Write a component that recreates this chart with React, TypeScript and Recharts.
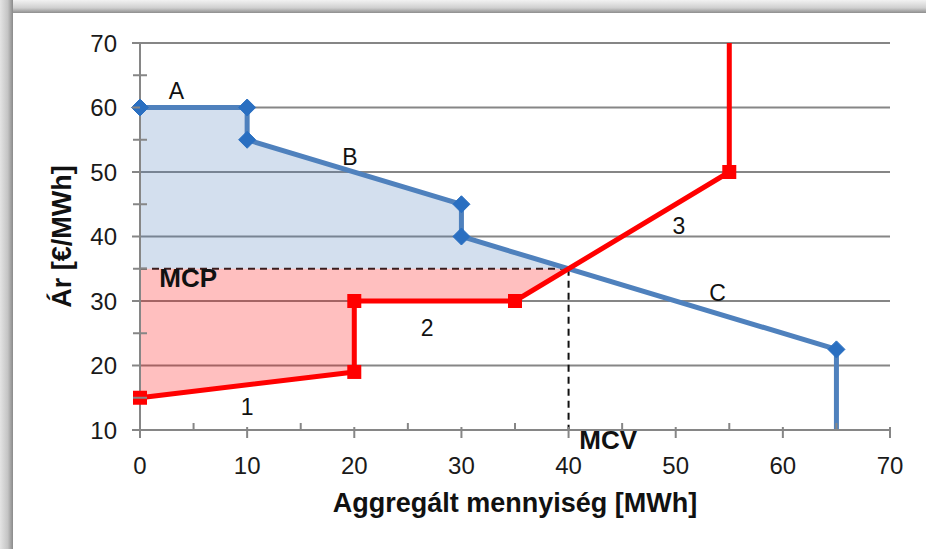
import React from 'react';
import {
  ComposedChart,
  Line,
  Area,
  XAxis,
  YAxis,
  CartesianGrid,
  ReferenceLine,
  ReferenceDot,
} from 'recharts';

// Demand curve (kereslet)
const demandQ = [0, 10, 10, 30, 30, 65, 65];
const demandP = [60, 60, 55, 45, 40, 22.5, 10];
// Supply curve (kínálat)
const supplyQ = [0, 20, 20, 35, 55, 55];
const supplyP = [15, 19, 30, 30, 50, 70];

// Market clearing
const mcpValue = 35;
const mcvValue = 40;

// Consumer surplus polygon (above MCP, under demand)
const blueFillQ = [0, 10, 10, 30, 30, 40];
const blueFillTop = [60, 60, 55, 45, 40, 35];
// Producer surplus polygon (below MCP, above supply)
const redFillQ = [0, 20, 20, 35, 40];
const redFillBottom = [15, 19, 30, 30, 35];

const xTicks = [0, 5, 10, 15, 20, 25, 30, 35, 40, 45, 50, 55, 60, 65, 70];
const yTicks = [10, 15, 20, 25, 30, 35, 40, 45, 50, 55, 60, 65, 70];
const gridValues = [20, 30, 40, 50, 60, 70];

// Segment labels
const segLabels = ['A', 'B', 'C', '1', '2', '3'];
const segLabelQ = [3.4, 19.6, 53.9, 10, 26.8, 50.3];
const segLabelP = [62.6, 52.3, 31.2, 13.6, 25.8, 41.6];

const demandData = demandQ.map((q, i) => ({ q, p: demandP[i] }));
const supplyData = supplyQ.map((q, i) => ({ q, p: supplyP[i] }));
const blueFillData = blueFillQ.map((q, i) => ({ q, range: [mcpValue, blueFillTop[i]] }));
const redFillData = redFillQ.map((q, i) => ({ q, range: [redFillBottom[i], mcpValue] }));

const AXIS_GRAY = '#868686';
const TICK_FONT = '"Liberation Sans", Arial, sans-serif';

const XTick = (props: any) => {
  const { x, y, payload } = props;
  const v = payload.value;
  if (v % 10 === 0) {
    return (
      <g>
        <line x1={x} x2={x} y1={y - 3} y2={y + 8} stroke={AXIS_GRAY} strokeWidth={2} />
        <text x={x} y={y + 44} textAnchor="middle" fontSize={24} fontFamily={TICK_FONT} fill="#1a1a1a">
          {v}
        </text>
      </g>
    );
  }
  return <line x1={x} x2={x} y1={y - 7} y2={y} stroke={AXIS_GRAY} strokeWidth={2} />;
};

const YTick = (props: any) => {
  const { x, y, payload } = props;
  const v = payload.value;
  if (v % 10 === 0) {
    return (
      <g>
        <line x1={x - 8} x2={x} y1={y} y2={y} stroke={AXIS_GRAY} strokeWidth={2} />
        <text x={x - 23} y={y + 8.5} textAnchor="end" fontSize={24} fontFamily={TICK_FONT} fill="#1a1a1a">
          {v}
        </text>
      </g>
    );
  }
  return <line x1={x - 7} x2={x + 7} y1={y} y2={y} stroke={AXIS_GRAY} strokeWidth={2} />;
};

const makeDiamondDot = (lastIndex: number) => (props: any) => {
  const { cx, cy, index } = props;
  if (index >= lastIndex || cx == null) return <g key={`d${index}`} />;
  const r = 8.5;
  return (
    <path
      key={`d${index}`}
      d={`M${cx},${cy - r}L${cx + r},${cy}L${cx},${cy + r}L${cx - r},${cy}Z`}
      fill="#2a6fc1"
      stroke="#2a6fc1"
      strokeWidth={1}
    />
  );
};

const makeSquareDot = (lastIndex: number) => (props: any) => {
  const { cx, cy, index } = props;
  if (index >= lastIndex || cx == null) return <g key={`s${index}`} />;
  const h = 7;
  return <rect key={`s${index}`} x={cx - h} y={cy - h} width={2 * h} height={2 * h} fill="#ff0000" />;
};

const YTitle = (props: any) => {
  const vb = props.viewBox || { x: 80, y: 43, width: 60, height: 387 };
  const cx = vb.x - 18;
  const cy = vb.y + vb.height / 2;
  return (
    <text
      x={cx}
      y={cy}
      transform={`rotate(-90, ${cx}, ${cy})`}
      textAnchor="middle"
      dominantBaseline="central"
      fontSize={27}
      fontWeight="bold"
      fontFamily={TICK_FONT}
      fill="#111"
    >
      Ár [€/MWh]
    </text>
  );
};

const XTitle = (props: any) => {
  const vb = props.viewBox || { x: 140, y: 430, width: 750, height: 60 };
  const cx = vb.x + vb.width / 2;
  const cy = vb.y + 73;
  return (
    <text
      x={cx}
      y={cy}
      textAnchor="middle"
      dominantBaseline="central"
      fontSize={27}
      fontWeight="bold"
      fontFamily={TICK_FONT}
      fill="#111"
    >
      Aggregált mennyiség [MWh]
    </text>
  );
};

export default function App() {
  return (
    <div
      style={{
        position: 'absolute',
        left: 0,
        top: 0,
        width: 926,
        height: 549,
        background: '#ffffff',
        overflow: 'hidden',
      }}
    >
      <div
        style={{
          position: 'absolute',
          left: 0,
          top: 0,
          width: 926,
          height: 13,
          background: 'linear-gradient(to bottom, #f2f2f2 0%, #d0d0d0 60%, #8e8e8e 100%)',
        }}
      />
      <div
        style={{
          position: 'absolute',
          left: 0,
          top: 0,
          width: 13,
          height: 549,
          background: 'linear-gradient(to right, #e4e4e4 0%, #c4c4c4 60%, #8a8a8a 100%)',
        }}
      />
      <div style={{ position: 'absolute', left: 0, top: 0 }}>
        <ComposedChart
          width={926}
          height={549}
          margin={{ top: 43, right: 36, bottom: 59, left: 80 }}
        >
          <CartesianGrid
            vertical={false}
            horizontalValues={gridValues}
            stroke={AXIS_GRAY}
            strokeWidth={2}
          />
          <XAxis
            dataKey="q"
            type="number"
            domain={[0, 70]}
            ticks={xTicks}
            interval={0}
            height={60}
            tickSize={0}
            tickMargin={0}
            tickLine={false}
            axisLine={{ stroke: AXIS_GRAY, strokeWidth: 2 }}
            tick={<XTick />}
            label={<XTitle />}
          />
          <YAxis
            type="number"
            domain={[10, 70]}
            ticks={yTicks}
            interval={0}
            width={60}
            tickSize={0}
            tickMargin={0}
            tickLine={false}
            axisLine={{ stroke: AXIS_GRAY, strokeWidth: 2 }}
            tick={<YTick />}
            label={<YTitle />}
          />
          <Area
            data={blueFillData}
            dataKey="range"
            type="linear"
            stroke="none"
            fill="#4f81bd"
            fillOpacity={0.25}
            isAnimationActive={false}
            activeDot={false}
          />
          <Area
            data={redFillData}
            dataKey="range"
            type="linear"
            stroke="none"
            fill="#ff0000"
            fillOpacity={0.25}
            isAnimationActive={false}
            activeDot={false}
          />
          <ReferenceLine
            segment={[
              { x: 0, y: mcpValue },
              { x: mcvValue, y: mcpValue },
            ]}
            stroke="#3a1c1c"
            strokeWidth={2}
            strokeDasharray="7 5"
          />
          <ReferenceLine
            segment={[
              { x: mcvValue, y: mcpValue },
              { x: mcvValue, y: 10 },
            ]}
            stroke="#111"
            strokeWidth={2}
            strokeDasharray="7 5"
          />
          <Line
            data={demandData}
            dataKey="p"
            type="linear"
            stroke="#4f81bd"
            strokeWidth={5}
            dot={makeDiamondDot(demandData.length - 1)}
            activeDot={false}
            isAnimationActive={false}
          />
          <Line
            data={supplyData}
            dataKey="p"
            type="linear"
            stroke="#ff0000"
            strokeWidth={5}
            dot={makeSquareDot(supplyData.length - 1)}
            activeDot={false}
            isAnimationActive={false}
          />
          {segLabels.map((t, i) => (
            <ReferenceDot
              key={t}
              x={segLabelQ[i]}
              y={segLabelP[i]}
              r={0}
              fill="none"
              stroke="none"
              ifOverflow="visible"
              label={{
                value: t,
                position: 'center',
                style: { fontSize: 23, fontFamily: TICK_FONT, fill: '#111' },
              }}
            />
          ))}
          <ReferenceDot
            x={4.5}
            y={33.6}
            r={0}
            fill="none"
            stroke="none"
            ifOverflow="visible"
            label={{
              value: 'MCP',
              position: 'center',
              style: { fontSize: 26, fontWeight: 'bold', fontFamily: TICK_FONT, fill: '#111' },
            }}
          />
          <ReferenceDot
            x={43.7}
            y={8.45}
            r={0}
            fill="none"
            stroke="none"
            ifOverflow="visible"
            label={{
              value: 'MCV',
              position: 'center',
              style: { fontSize: 26, fontWeight: 'bold', fontFamily: TICK_FONT, fill: '#111' },
            }}
          />
        </ComposedChart>
      </div>
    </div>
  );
}
